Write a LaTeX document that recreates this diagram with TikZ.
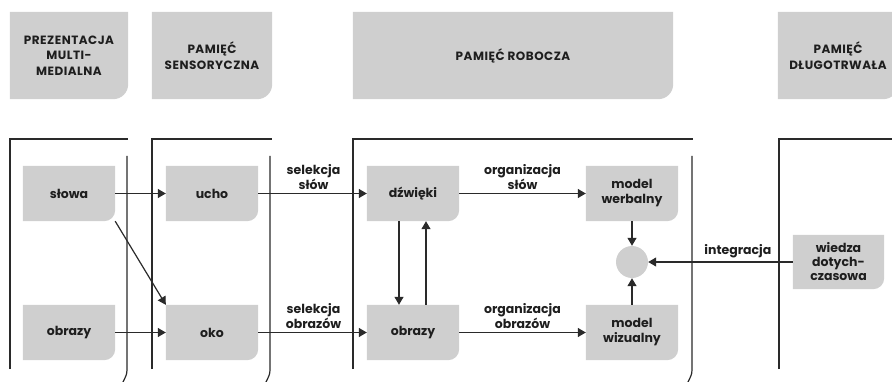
\documentclass[tikz,border=0pt]{standalone}
\usepackage{fontspec}
\setmainfont{Poppins}
\newfontfamily\hdrfont[LetterSpace=4]{Poppins}
\usetikzlibrary{arrows.meta,backgrounds}
\definecolor{boxgray}{HTML}{CFCFCF}
\definecolor{ink}{HTML}{1E1E1E}
\definecolor{lineink}{HTML}{2A2A2A}
\tikzset{
  lbl/.style={font=\bfseries\fontsize{12.5}{15}\selectfont, text=ink, align=center, inner sep=0pt},
  hdr/.style={font=\hdrfont\bfseries\fontsize{12}{15.5}\selectfont, text=ink, align=center, inner sep=0pt},
  sbox/.style={lbl, minimum width=92pt, minimum height=55pt},
  hbox/.style={hdr, minimum height=87pt},
  arr/.style={-{Triangle[length=8pt,width=9pt]}, line width=1.2pt, draw=lineink},
  panel/.style={line width=1.2pt, draw=lineink},
  conlbl/.style={lbl, above, inner sep=3pt},
}
\begin{document}
\begin{tikzpicture}[x=1pt,y=-1pt]
\useasboundingbox (0,0) rectangle (892,382);
% header boxes
\node[hbox, minimum width=118pt] (h1) at (69,55.5) {PREZENTACJA\\MULTI-\\MEDIALNA};
\node[hbox, minimum width=120pt] (h2) at (212,55.5) {PAMIĘĆ\\SENSORYCZNA};
\node[hbox, minimum width=320pt] (h3) at (513,55.5) {PAMIĘĆ ROBOCZA};
\node[hbox, minimum width=120pt] (h4) at (838,55.5) {PAMIĘĆ\\DŁUGOTRWAŁA};
% panels
\draw[panel] (10,369) -- (10,139) -- (128,139);
\draw[panel] (127,156) -- (127,370) to[out=-90,in=65] (123,382);
\draw[panel] (152,369) -- (152,139) -- (272,139);
\draw[panel] (270,156) -- (270,370) to[out=-90,in=65] (266,382);
\draw[panel] (353,369) -- (353,139) -- (693,139);
\draw[panel] (692,156) -- (692,370) to[out=-90,in=65] (688,382);
\draw[panel] (779,369) -- (779,139) -- (892,139);
% nodes
\node[sbox] (slowa) at (69,193.5) {słowa};
\node[sbox] (obrazyL) at (69,332.5) {obrazy};
\node[sbox] (ucho) at (212,193.5) {ucho};
\node[sbox] (oko) at (212,332.5) {oko};
\node[sbox] (dzwieki) at (413,193.5) {dźwięki};
\node[sbox] (obrazyM) at (413,332.5) {obrazy};
\node[sbox] (mwerb) at (632,193.5) {model\\werbalny};
\node[sbox] (mwiz) at (632,332.5) {model\\wizualny};
\node[lbl, minimum width=91pt, minimum height=54pt, font=\bfseries\fontsize{12.5}{14}\selectfont] (wiedza) at (838.5,262) {wiedza\\dotych-\\czasowa};
\node[circle, fill=boxgray, minimum size=32pt, inner sep=0pt] (integ) at (632,262) {};
% gray fills with rounded bottom-right corner
\begin{scope}[on background layer]
\foreach \n in {slowa,obrazyL,ucho,oko,dzwieki,obrazyM,mwerb,mwiz,wiedza}
  \fill[boxgray] (\n.south west) |- (\n.north east) -- ([yshift=11pt]\n.south east)
     arc[start angle=0,end angle=-90,radius=11pt] -- cycle;
\foreach \n in {h1,h2,h3,h4}
  \fill[boxgray] (\n.south west) |- (\n.north east) -- ([yshift=15pt]\n.south east)
     arc[start angle=0,end angle=-90,radius=15pt] -- cycle;
\end{scope}
% connectors
\draw[arr] (slowa) -- (ucho);
\draw[arr] (slowa.south east) -- (oko.north west);
\draw[arr] (obrazyL) -- (oko);
\draw[arr] (ucho) -- node[conlbl, xshift=1pt] {selekcja\\słów} (dzwieki);
\draw[arr] (oko) -- node[conlbl, xshift=1pt] {selekcja\\obrazów} (obrazyM);
\draw[arr] (dzwieki) -- node[conlbl] {organizacja\\słów} (mwerb);
\draw[arr] (obrazyM) -- node[conlbl] {organizacja\\obrazów} (mwiz);
\draw[arr] ([xshift=-14pt]dzwieki.south) -- ([xshift=-14pt]obrazyM.north);
\draw[arr] ([xshift=13pt]obrazyM.north) -- ([xshift=13pt]dzwieki.south);
\draw[arr] (mwerb) -- (integ);
\draw[arr] (mwiz) -- (integ);
\draw[arr] (wiedza) -- node[conlbl, pos=0.38] {integracja} (integ);
\end{tikzpicture}
\end{document}
